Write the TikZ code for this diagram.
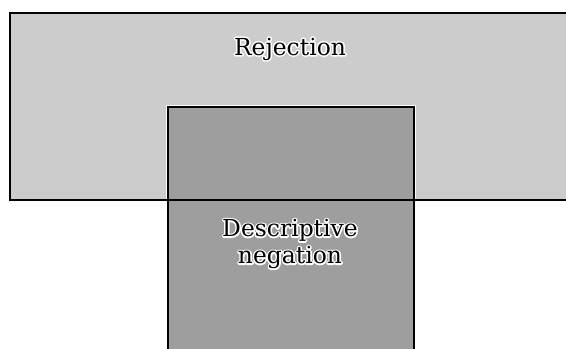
\documentclass[tikz,border=0pt]{standalone}
\usepackage{fontspec}
\setmainfont{DejaVu Serif}
\usepackage{tikz}
\usetikzlibrary{positioning}
\definecolor{rLight}{gray}{0.80}
\definecolor{rDark}{gray}{0.62}
% white stroked copy under the black text, as a halo
\newcommand{\haloText}[1]{\makebox[0pt][l]{\special{pdf:literal direct 1 Tr 2.6 w 1 1 1 RG 1 j}#1\special{pdf:literal direct 0 Tr}}#1}
\tikzset{
  area/.style={draw=black, line width=1.3pt, inner sep=0pt, outer sep=0pt},
  lightarea/.style={area, fill=rLight},
  darkarea/.style={area, fill=rDark},
  lbl/.style={font=\fontsize{20}{23}\selectfont, align=center, inner sep=0pt},
}
\begin{document}
\begin{tikzpicture}[x=0.03cm, y=-0.03cm]
  \useasboundingbox (0,0) rectangle (566,349);
  \clip (0,0) rectangle (566,349);
  % rejection area
  \node[lightarea, minimum width=16.95cm, minimum height=5.61cm] (rej) at (292.5,106.5) {};
  % descriptive negation area, with a white gap round it
  \node[area, draw=white, line width=4pt, minimum width=7.38cm, minimum height=7.44cm] (halo) at (291,231) {};
  \node[darkarea, minimum width=7.38cm, minimum height=7.44cm] (neg) at (291,231) {};
  \draw[line width=1.3pt] (rej.south west) -- (rej.south east);
  \node[lbl] (rejlbl) at (290,49) {\haloText{Rejection}};
  \node[lbl] (neglbl) at (290,244) {\haloText{Descriptive}\\\haloText{negation}};
\end{tikzpicture}
\end{document}
